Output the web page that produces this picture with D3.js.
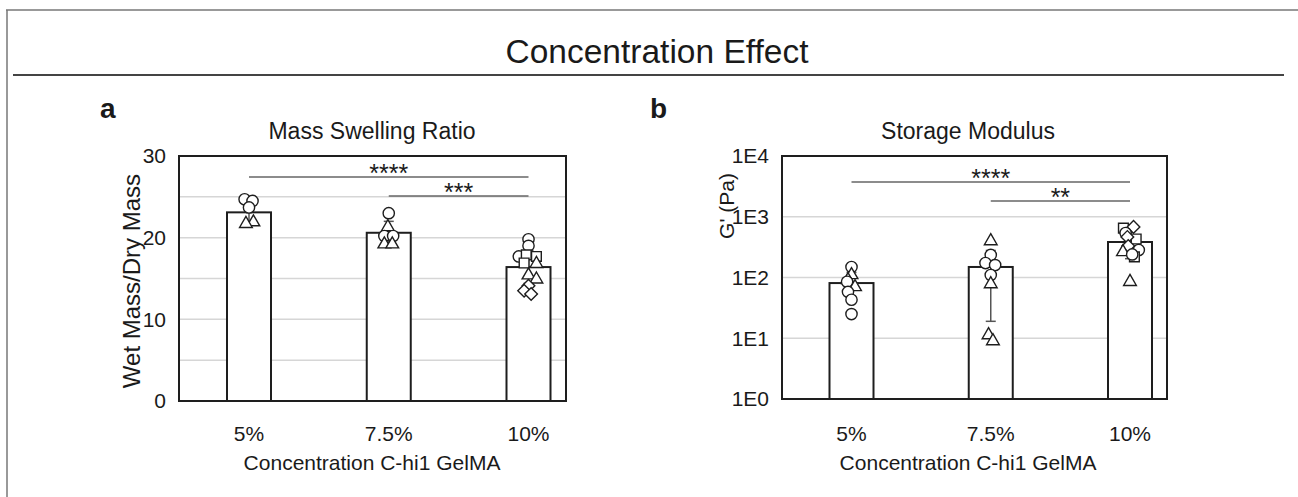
<!DOCTYPE html>
<html><head><meta charset="utf-8">
<script src="https://cdn.jsdelivr.net/npm/d3@7/dist/d3.min.js"></script>
<style>body{margin:0;background:#fff;} text{font-family:"Liberation Sans",Arial,sans-serif;fill:#1a1a1a;}</style>
</head><body>
<svg id="c" width="1298" height="497"></svg>
<script>
// ---- data ----
const categories = ["5%", "7.5%", "10%"];
// panel a: mass swelling ratio
const swellMeans = [23.1, 20.6, 16.4];
const swellSD = [1.3, 1.4, 2.0];
const swellPoints = [
  // [categoryIndex, value, shape, jitter(fraction of bar width)]
  [0, 24.7, "circle", -0.1], [0, 24.5, "circle", 0.08], [0, 23.7, "circle", 0.0],
  [0, 21.9, "triangle", 0.1], [0, 21.7, "triangle", -0.07],
  [1, 23.0, "circle", 0.0], [1, 21.3, "triangle", -0.02],
  [1, 20.2, "circle", -0.1], [1, 20.2, "circle", 0.1],
  [1, 19.2, "triangle", -0.1], [1, 19.2, "triangle", 0.08],
  [2, 19.8, "circle", 0.0], [2, 19.0, "circle", 0.0], [2, 17.7, "circle", -0.22],
  [2, 17.9, "square", -0.05], [2, 17.7, "square", 0.18], [2, 16.9, "square", -0.1],
  [2, 16.8, "triangle", 0.18], [2, 15.4, "triangle", 0.0], [2, 14.9, "triangle", 0.18],
  [2, 14.1, "diamond", 0.0], [2, 13.5, "diamond", -0.1], [2, 13.1, "diamond", 0.06]
];
// panel b: storage modulus (Pa)
const modMeans = [81, 149, 384];
const modSD = [40, 130, 180];
const modPoints = [
  [0, 149, "circle", 0.0], [0, 110, "triangle", 0.0], [0, 91, "triangle", -0.08],
  [0, 85, "circle", -0.1], [0, 70, "triangle", 0.08], [0, 58, "circle", -0.08],
  [0, 43, "circle", 0.0], [0, 25, "circle", 0.0],
  [1, 398, "triangle", 0.0], [1, 235, "circle", 0.0], [1, 173, "circle", -0.12],
  [1, 160, "circle", 0.1], [1, 110, "circle", 0.0], [1, 78, "triangle", 0.0],
  [1, 11.3, "triangle", -0.05], [1, 9, "triangle", 0.05],
  [2, 650, "square", -0.15], [2, 680, "diamond", 0.08], [2, 540, "circle", -0.1],
  [2, 430, "square", 0.14], [2, 465, "diamond", -0.06], [2, 330, "diamond", -0.04],
  [2, 283, "circle", 0.2], [2, 263, "triangle", -0.16], [2, 218, "square", 0.1],
  [2, 240, "circle", 0.05], [2, 85, "triangle", 0.0]
];
const swellTicks = [0, 10, 20, 30];
const swellGrid = [5, 10, 15, 20, 25];
const modTicks = [1, 10, 100, 1000, 10000];
const modTickLabels = ["1E0", "1E1", "1E2", "1E3", "1E4"];
const swellSig = [{from: 0, to: 2, label: "****"}, {from: 1, to: 2, label: "***"}];
const modSig = [{from: 0, to: 2, label: "****"}, {from: 1, to: 2, label: "**"}];

// ---- drawing ----
const svg = d3.select("#c");
const ink = "#1e1e1e";

// frame
svg.append("line").attr("x1", 6).attr("x2", 1298).attr("y1", 10).attr("y2", 10).attr("stroke", "#777").attr("stroke-width", 1.5);
svg.append("line").attr("x1", 7).attr("x2", 7).attr("y1", 10).attr("y2", 497).attr("stroke", "#777").attr("stroke-width", 1.5);
svg.append("text").attr("x", 657).attr("y", 63).attr("text-anchor", "middle").attr("font-size", 33.5).text("Concentration Effect");
svg.append("line").attr("x1", 13).attr("x2", 1284).attr("y1", 75).attr("y2", 75).attr("stroke", "#444").attr("stroke-width", 2);

function shapePath(type) {
  const t = {circle: d3.symbolCircle, triangle: d3.symbolTriangle, square: d3.symbolSquare, diamond: d3.symbolSquare}[type];
  const s = {circle: 100, triangle: 70, square: 95, diamond: 80}[type];
  return d3.symbol().type(t).size(s)();
}

function panel(cfg) {
  const g = svg.append("g");
  const x = d3.scalePoint().domain(categories).range(cfg.xr);
  const barW = 44;
  const y = cfg.y;
  const [top, bottom] = [y.range()[1], y.range()[0]];
  // grid
  g.selectAll(".grid").data(cfg.grid).join("line")
    .attr("x1", cfg.box[0]).attr("x2", cfg.box[1])
    .attr("y1", d => y(d)).attr("y2", d => y(d))
    .attr("stroke", "#d6d6d6").attr("stroke-width", 1.5);
  // y tick labels
  g.selectAll(".yt").data(cfg.ticks).join("text")
    .attr("x", cfg.box[0] - 13).attr("y", d => y(d)).attr("dy", "0.35em")
    .attr("text-anchor", "end").attr("font-size", 21)
    .text((d, i) => cfg.tickLabels ? cfg.tickLabels[i] : d);
  // bars
  g.selectAll(".bar").data(cfg.means).join("rect")
    .attr("x", (d, i) => x(categories[i]) - barW / 2).attr("width", barW)
    .attr("y", d => y(d)).attr("height", d => bottom - y(d))
    .attr("fill", "#fff").attr("stroke", ink).attr("stroke-width", 2);
  // error bars
  cfg.means.forEach((m, i) => {
    const cx = x(categories[i]);
    const lo = Math.max(m - cfg.sd[i], cfg.floor), hi = m + cfg.sd[i];
    g.append("line").attr("x1", cx).attr("x2", cx).attr("y1", y(lo)).attr("y2", y(hi)).attr("stroke", "#555").attr("stroke-width", 1.5);
    [lo, hi].forEach(v => g.append("line").attr("x1", cx - 5).attr("x2", cx + 5).attr("y1", y(v)).attr("y2", y(v)).attr("stroke", "#555").attr("stroke-width", 1.5));
  });
  // points
  g.selectAll(".pt").data(cfg.points).join("path")
    .attr("d", d => shapePath(d[2]))
    .attr("transform", d => `translate(${x(categories[d[0]]) + d[3] * barW},${y(d[1])})` + (d[2] === "diamond" ? " rotate(45)" : ""))
    .attr("fill", "#fff").attr("stroke", ink).attr("stroke-width", 1.4);
  // box
  g.append("rect").attr("x", cfg.box[0]).attr("y", top).attr("width", cfg.box[1] - cfg.box[0]).attr("height", bottom - top)
    .attr("fill", "none").attr("stroke", ink).attr("stroke-width", 2);
  // significance
  cfg.sig.forEach((s, k) => {
    const ly = top + cfg.sigY[k];
    const x1 = x(categories[s.from]), x2 = x(categories[s.to]);
    g.append("line").attr("x1", x1).attr("x2", x2).attr("y1", ly).attr("y2", ly).attr("stroke", "#666").attr("stroke-width", 1.5);
    g.append("text").attr("x", (x1 + x2) / 2).attr("y", ly + 5).attr("text-anchor", "middle").attr("font-size", 25).attr("fill", "#333").text(s.label);
  });
  // x tick labels
  g.selectAll(".xt").data(categories).join("text")
    .attr("x", d => x(d)).attr("y", 441).attr("text-anchor", "middle").attr("font-size", 21).text(d => d);
  g.append("text").attr("x", cfg.mid).attr("y", 470).attr("text-anchor", "middle").attr("font-size", 21).text("Concentration C-hi1 GelMA");
  g.append("text").attr("x", cfg.mid).attr("y", 139).attr("text-anchor", "middle").attr("font-size", 23).text(cfg.title);
  g.append("text").attr("transform", `translate(${cfg.ylab[0]},${cfg.ylab[1]}) rotate(-90)`).attr("text-anchor", "middle").attr("font-size", cfg.ylabSize).text(cfg.ylabel);
  g.append("text").attr("x", cfg.letter[0]).attr("y", cfg.letter[1]).attr("font-size", 28).attr("font-weight", "bold").text(cfg.letterText);
}

panel({
  xr: [249, 528.5], box: [179, 566], mid: 372,
  y: d3.scaleLinear().domain([0, 30]).range([401, 156]),
  grid: swellGrid, ticks: swellTicks, means: swellMeans, sd: swellSD, floor: 0,
  points: swellPoints, sig: swellSig, sigY: [21, 40],
  title: "Mass Swelling Ratio", ylabel: "Wet Mass/Dry Mass", ylab: [140, 281], ylabSize: 24,
  letter: [100, 118], letterText: "a"
});
panel({
  xr: [851.5, 1130], box: [782, 1167], mid: 968,
  y: d3.scaleLog().domain([1, 10000]).range([399, 156]),
  grid: [10, 100, 1000], ticks: modTicks, tickLabels: modTickLabels, means: modMeans, sd: modSD, floor: 1,
  points: modPoints, sig: modSig, sigY: [26, 45],
  title: "Storage Modulus", ylabel: "G' (Pa)", ylab: [734, 206], ylabSize: 21,
  letter: [650, 118], letterText: "b"
});
</script>
</body></html>
